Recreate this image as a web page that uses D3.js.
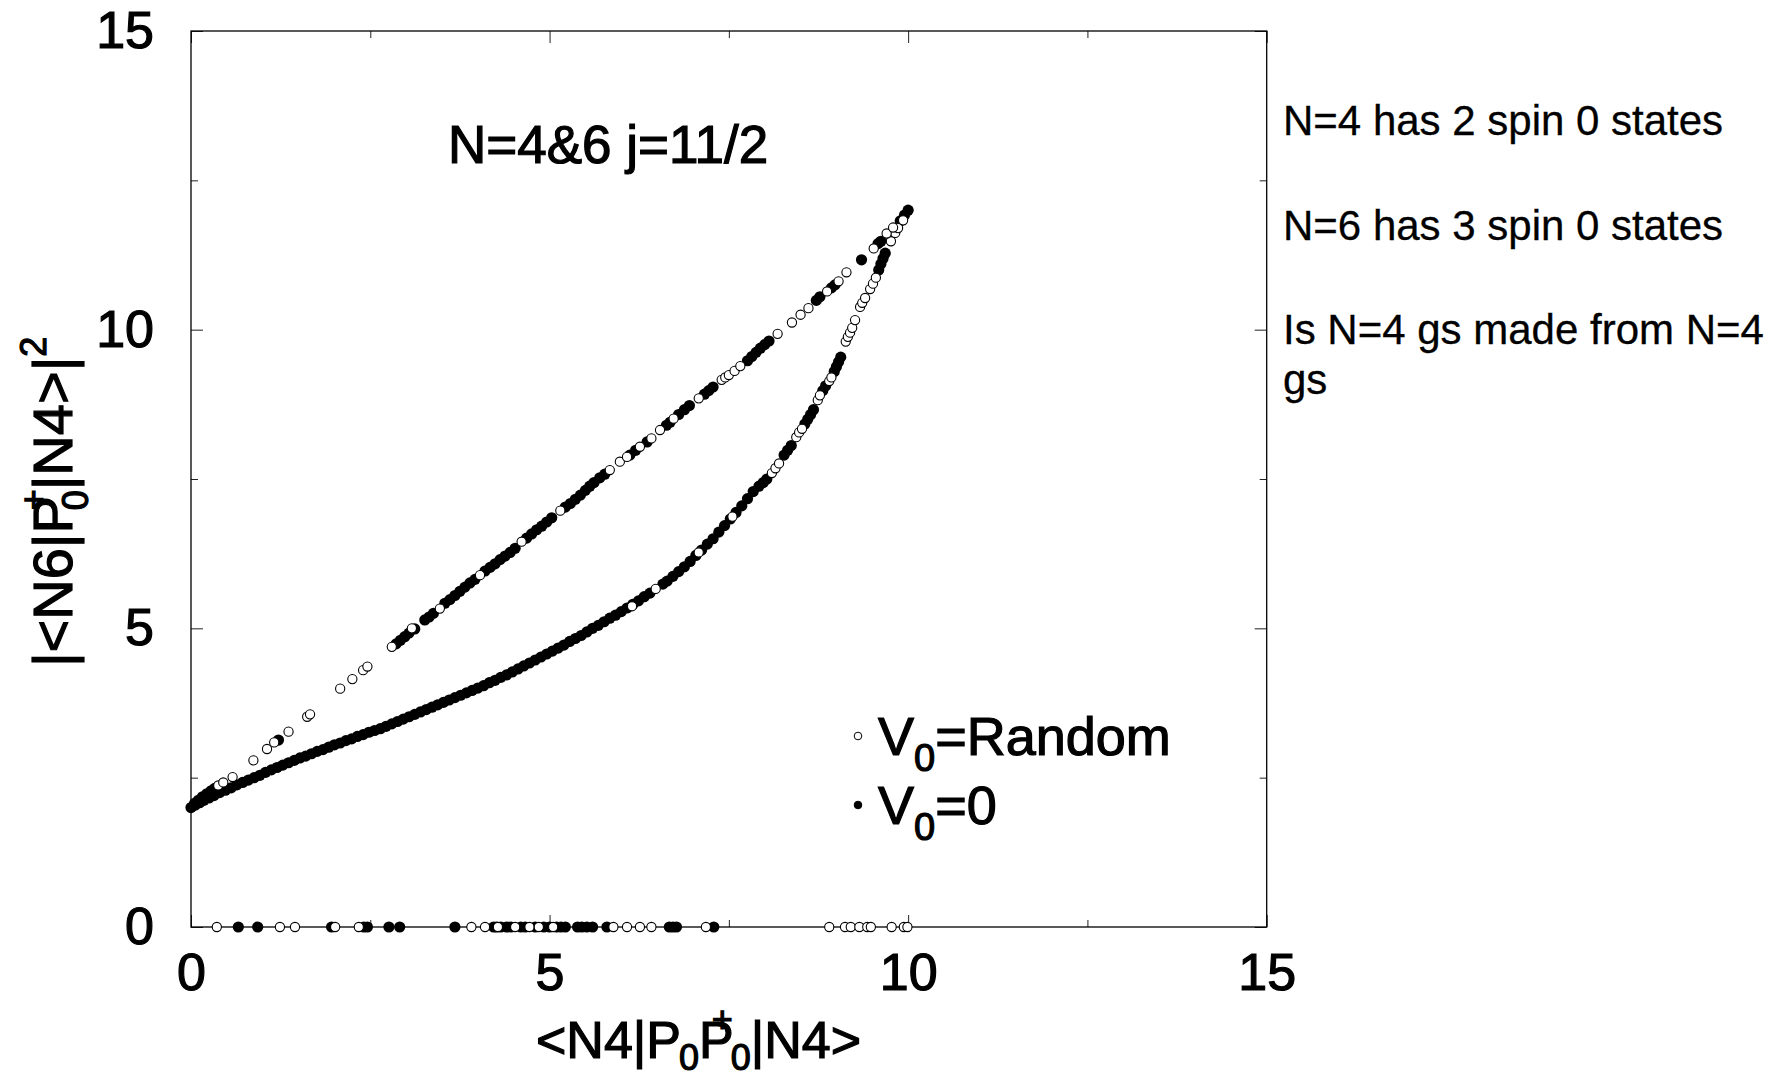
<!DOCTYPE html>
<html>
<head>
<meta charset="utf-8">
<script src="https://cdn.jsdelivr.net/npm/d3@7"></script>
<style>
  body { margin: 0; background: #fff; }
  svg { display: block; font-family: "Liberation Sans", Arial, sans-serif; }
  .tick line { stroke: #222; stroke-width: 1; }
  .heavy { stroke: #000; stroke-width: 1.2; }
</style>
</head>
<body>
<div id="chart"></div>
<script>
// valores: [x, y]
// V0=0 (puntos rellenos)
const zeroLower = [
  [0.00,2.00],[0.06,2.04],[0.12,2.08],[0.18,2.12],[0.25,2.16],[0.32,2.20],[0.40,2.25],[0.48,2.29],
  [0.56,2.33],[0.64,2.38],[0.72,2.42],[0.80,2.46],[0.88,2.50],[0.96,2.54],[1.04,2.59],[1.12,2.63],
  [1.20,2.67],[1.28,2.71],[1.36,2.75],[1.44,2.79],[1.52,2.83],[1.60,2.86],[1.68,2.90],[1.76,2.94],
  [1.84,2.97],[1.92,3.01],[2.00,3.05],[2.08,3.08],[2.16,3.12],[2.24,3.15],[2.32,3.19],[2.40,3.22],
  [2.48,3.26],[2.56,3.29],[2.64,3.32],[2.72,3.36],[2.80,3.40],[2.88,3.44],[2.96,3.48],[3.04,3.52],
  [3.12,3.56],[3.20,3.60],[3.28,3.64],[3.36,3.68],[3.44,3.72],[3.52,3.76],[3.60,3.80],[3.68,3.84],
  [3.76,3.88],[3.84,3.92],[3.92,3.96],[4.00,4.00],[4.08,4.04],[4.16,4.09],[4.24,4.13],[4.32,4.18],
  [4.40,4.22],[4.48,4.27],[4.56,4.32],[4.64,4.37],[4.72,4.42],[4.80,4.47],[4.88,4.52],[4.96,4.57],
  [5.04,4.62],[5.12,4.67],[5.20,4.72],[5.28,4.78],[5.36,4.83],[5.44,4.88],[5.52,4.94],[5.60,5.00],
  [5.68,5.05],[5.76,5.11],[5.84,5.17],[5.92,5.22],[6.00,5.28],[6.08,5.34],[6.16,5.40],[6.24,5.46],
  [6.32,5.53],[6.40,5.59],[6.58,5.74],[6.64,5.79],[6.72,5.87],[6.80,5.95],[6.88,6.03],[6.96,6.12],
  [7.04,6.22],[7.12,6.31],[7.20,6.41],[7.28,6.50],[7.36,6.61],[7.44,6.72],[7.52,6.83],[7.60,6.94],
  [7.68,7.05],[7.76,7.17],[7.84,7.29],[7.92,7.38],[7.98,7.44],[8.03,7.50],[8.27,7.90],[8.32,7.98],
  [8.37,8.06],[8.56,8.42],[8.60,8.50],[8.64,8.58],[8.68,8.66],[8.81,8.98],[8.85,9.06],[8.97,9.30],
  [9.00,9.38],[9.03,9.46],[9.06,9.54],[9.59,11.00],[9.62,11.10],[9.65,11.19],[9.68,11.28]
];
const zeroUpper = [
  [0.05,2.07],[0.10,2.12],[0.16,2.18],[0.22,2.23],[0.28,2.28],[0.33,2.32],[1.22,3.13],[2.86,4.74],
  [2.92,4.80],[2.98,4.86],[3.04,4.92],[3.12,4.99],[3.26,5.14],[3.32,5.19],[3.38,5.25],[3.54,5.42],
  [3.61,5.48],[3.68,5.55],[3.75,5.62],[3.82,5.69],[3.89,5.76],[3.96,5.82],[4.10,5.96],[4.17,6.02],
  [4.24,6.08],[4.31,6.15],[4.38,6.21],[4.45,6.27],[4.52,6.34],[4.68,6.51],[4.75,6.58],[4.82,6.65],
  [4.89,6.71],[4.96,6.78],[5.03,6.85],[5.22,7.03],[5.29,7.09],[5.36,7.16],[5.43,7.23],[5.50,7.31],
  [5.56,7.38],[5.62,7.44],[5.70,7.52],[5.77,7.58],[6.12,7.90],[6.20,7.98],[6.36,8.12],[6.63,8.40],
  [6.68,8.45],[6.80,8.58],[6.88,8.66],[6.95,8.73],[7.16,8.92],[7.22,8.98],[7.28,9.04],[7.76,9.48],
  [7.82,9.55],[7.88,9.62],[7.94,9.69],[8.00,9.75],[8.06,9.81],[8.72,10.49],[8.77,10.55],[8.93,10.70],
  [8.98,10.75],[9.35,11.17],[9.58,11.44],[9.62,11.48],[9.89,11.82],[9.95,11.92],[10.00,12.00]
];
const zeroBase = [
  [0.66,0],[0.93,0],[1.96,0],[2.41,0],[2.46,0],[2.76,0],[2.91,0],[3.68,0],[4.22,0],[4.26,0],
  [4.32,0],[4.40,0],[4.46,0],[4.60,0],[4.66,0],[4.80,0],[4.92,0],[5.00,0],[5.10,0],[5.16,0],
  [5.22,0],[5.39,0],[5.45,0],[5.52,0],[5.60,0],[5.80,0],[6.67,0],[6.72,0],[6.77,0],[7.29,0]
];

// V0=Random (circulos abiertos)
const randomLower = [
  [6.15,5.37],[6.48,5.66],[7.08,6.27],[7.55,6.87],[8.10,7.60],[8.15,7.68],[8.20,7.76],[8.44,8.20],
  [8.48,8.28],[8.52,8.34],[8.74,8.82],[8.77,8.90],[8.90,9.14],[8.93,9.20],[9.13,9.80],[9.16,9.88],
  [9.19,9.95],[9.22,10.03],[9.26,10.16],[9.33,10.38],[9.36,10.45],[9.40,10.53],[9.47,10.68],
  [9.51,10.77],[9.55,10.87],[9.76,11.48],[9.82,11.62],[9.86,11.70],[9.93,11.83]
];
const randomUpper = [
  [0.38,2.37],[0.45,2.42],[0.58,2.51],[0.87,2.79],[1.06,2.98],[1.16,3.09],[1.36,3.27],[1.62,3.52],
  [1.66,3.56],[2.08,3.99],[2.25,4.15],[2.40,4.30],[2.46,4.36],[2.80,4.69],[3.08,5.00],[3.47,5.33],
  [4.03,5.89],[4.61,6.45],[5.15,6.97],[5.84,7.65],[5.98,7.79],[6.08,7.87],[6.26,8.04],[6.42,8.18],
  [6.54,8.32],[6.73,8.51],[7.08,8.85],[7.40,9.16],[7.45,9.20],[7.50,9.24],[7.58,9.31],[7.66,9.39],
  [8.18,9.93],[8.38,10.12],[8.50,10.25],[8.61,10.36],[8.87,10.64],[9.03,10.81],[9.14,10.96],
  [9.52,11.36],[9.70,11.61],[9.79,11.71]
];
const randomBase = [
  [0.36,0],[1.24,0],[1.45,0],[2.01,0],[2.34,0],[3.91,0],[4.10,0],[4.28,0],[4.52,0],[4.72,0],
  [4.85,0],[5.05,0],[5.89,0],[6.08,0],[6.26,0],[6.42,0],[7.18,0],[8.90,0],[9.12,0],[9.20,0],
  [9.32,0],[9.43,0],[9.48,0],[9.77,0],[9.94,0],[9.99,0]
];

// ticks
const majorTicks = [0, 5, 10, 15];
const minorTicks = [2.5, 7.5, 12.5];

const notes = [
  "N=4 has 2 spin 0 states",
  "N=6 has 3 spin 0 states",
  "Is N=4 gs made from N=4",
  "gs"
];

// dimensiones
const totalWidth = 1789;
const totalHeight = 1077;
const margins = { top: 31, left: 191 };
const chartWidth = 1075.7;
const chartHeight = 896;

const svg = d3.select("#chart")
  .append("svg")
  .attr("width", totalWidth)
  .attr("height", totalHeight);

svg.append("rect").attr("width", totalWidth).attr("height", totalHeight).attr("fill", "#fff");

const g = svg.append("g")
  .attr("transform", `translate(${margins.left}, ${margins.top})`);

const x = d3.scaleLinear().domain([0, 15]).range([0, chartWidth]);
const y = d3.scaleLinear().domain([0, 15]).range([chartHeight, 0]);

// ejes con ticks hacia dentro
const addAxis = (axis, transform, values, size, labels, pad) => {
  const a = g.append("g")
    .attr("transform", transform)
    .call(axis.tickValues(values).tickSize(-size).tickPadding(pad || 0)
      .tickFormat(labels ? d3.format("d") : ""));
  a.select(".domain").remove();
  a.selectAll("text")
    .attr("class", "heavy")
    .attr("font-size", 52)
    .attr("font-family", "Liberation Sans, Arial, sans-serif")
    .attr("fill", "#000");
  return a;
};

addAxis(d3.axisBottom(x), `translate(0,${chartHeight})`, majorTicks, 12, true, 26);
addAxis(d3.axisBottom(x), `translate(0,${chartHeight})`, minorTicks, 7, false);
addAxis(d3.axisTop(x), "translate(0,0)", majorTicks, 12, false);
addAxis(d3.axisTop(x), "translate(0,0)", minorTicks, 7, false);
addAxis(d3.axisLeft(y), "translate(0,0)", majorTicks, 12, true, 37);
addAxis(d3.axisLeft(y), "translate(0,0)", minorTicks, 7, false);
addAxis(d3.axisRight(y), `translate(${chartWidth},0)`, majorTicks, 12, false);
addAxis(d3.axisRight(y), `translate(${chartWidth},0)`, minorTicks, 7, false);

// marco
g.append("rect")
  .attr("width", chartWidth)
  .attr("height", chartHeight)
  .attr("fill", "none")
  .attr("stroke", "#000")
  .attr("stroke-width", 1.3);

// puntos rellenos primero, abiertos encima
const filled = zeroLower.concat(zeroUpper, zeroBase);
const open = randomLower.concat(randomUpper, randomBase);

g.append("g").selectAll("circle")
  .data(filled)
  .join("circle")
  .attr("cx", (d) => x(d[0]))
  .attr("cy", (d) => y(d[1]))
  .attr("r", 5.6)
  .attr("fill", "#000");

g.append("g").selectAll("circle")
  .data(open)
  .join("circle")
  .attr("cx", (d) => x(d[0]))
  .attr("cy", (d) => y(d[1]))
  .attr("r", 4.6)
  .attr("fill", "#fff")
  .attr("stroke", "#000")
  .attr("stroke-width", 1.1);

// titulo
svg.append("text")
  .attr("class", "heavy")
  .attr("x", 448)
  .attr("y", 163)
  .attr("font-size", 53)
  .text("N=4&6 j=11/2");

// notas a la derecha
const noteY = [135, 240, 344, 394];
svg.append("g").selectAll("text")
  .data(notes)
  .join("text")
  .attr("x", 1283)
  .attr("y", (d, i) => noteY[i])
  .attr("font-size", 42)
  .attr("stroke", "#000")
  .attr("stroke-width", 0.3)
  .text((d) => d);

// leyenda
const legend = [
  { label: "=Random", open: true, cy: 736, ty: 755 },
  { label: "=0", open: false, cy: 805, ty: 824 }
];
legend.forEach((l) => {
  svg.append("circle")
    .attr("cx", 858)
    .attr("cy", l.cy)
    .attr("r", 3.8)
    .attr("fill", l.open ? "#fff" : "#000")
    .attr("stroke", "#000")
    .attr("stroke-width", 1);
  const t = svg.append("text").attr("class", "heavy").attr("x", 878).attr("y", l.ty).attr("font-size", 54);
  t.append("tspan").text("V");
  t.append("tspan").attr("font-size", 38).attr("dy", 16).text("0");
  t.append("tspan").attr("dy", -16).text(l.label);
});

// etiqueta eje x
const xl = svg.append("text").attr("class", "heavy").attr("x", 536).attr("y", 1058).attr("font-size", 52);
xl.append("tspan").text("<N4|P");
xl.append("tspan").attr("font-size", 36).attr("dx", -2).attr("dy", 12).text("0");
xl.append("tspan").attr("dy", -12).text("P");
xl.append("tspan").attr("font-size", 36).attr("dx", -22).attr("dy", -26).text("+");
xl.append("tspan").attr("font-size", 36).attr("dx", -2).attr("dy", 38).text("0");
xl.append("tspan").attr("dy", -12).text("|N4>");

// etiqueta eje y
const yl = svg.append("text")
  .attr("class", "heavy")
  .attr("transform", "translate(72, 667) rotate(-90)")
  .attr("font-size", 56);
yl.append("tspan").text("|<N6|P");
yl.append("tspan").attr("font-size", 36).attr("dx", -14).attr("dy", -26).text("+");
yl.append("tspan").attr("font-size", 36).attr("dx", -21).attr("dy", 42).text("0");
yl.append("tspan").attr("dy", -16).text("|N4>|");
yl.append("tspan").attr("font-size", 36).attr("dy", -26).text("2");
</script>
</body>
</html>
